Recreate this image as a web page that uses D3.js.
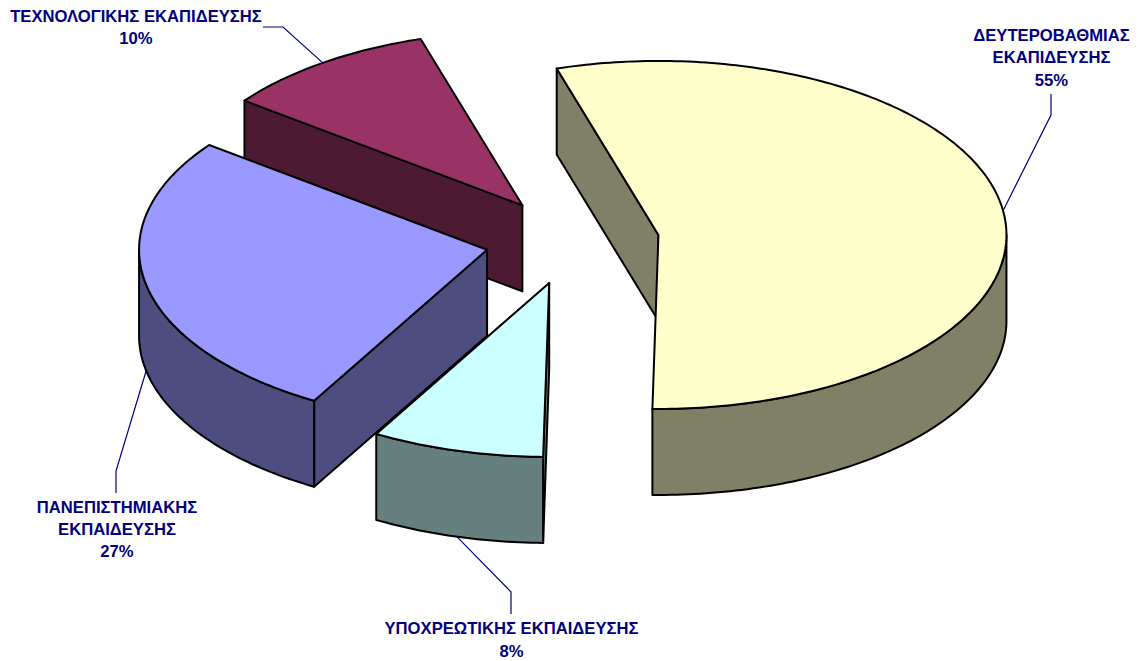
<!DOCTYPE html>
<html>
<head>
<meta charset="utf-8">
<script src="https://d3js.org/d3.v7.min.js"></script>
<style>
  html, body { margin: 0; padding: 0; background: #fff; }
  svg { display: block; }
  text { font-family: "Liberation Sans", Arial, sans-serif; font-weight: bold; font-size: 16.65px; fill: #000080; }
</style>
</head>
<body>
<div id="chart"></div>
<script>
// Chart data, in pie order (clockwise from the start angle)
const categories = ["ΔΕΥΤΕΡΟΒΑΘΜΙΑΣ ΕΚΑΠΙΔΕΥΣΗΣ", "ΥΠΟΧΡΕΩΤΙΚΗΣ ΕΚΠΑΙΔΕΥΣΗΣ", "ΠΑΝΕΠΙΣΤΗΜΙΑΚΗΣ ΕΚΠΑΙΔΕΥΣΗΣ", "ΤΕΧΝΟΛΟΓΙΚΗΣ ΕΚΑΠΙΔΕΥΣΗΣ"];
const labelLines = [
    ["ΔΕΥΤΕΡΟΒΑΘΜΙΑΣ", "ΕΚΑΠΙΔΕΥΣΗΣ"],
    ["ΥΠΟΧΡΕΩΤΙΚΗΣ ΕΚΠΑΙΔΕΥΣΗΣ"],
    ["ΠΑΝΕΠΙΣΤΗΜΙΑΚΗΣ", "ΕΚΠΑΙΔΕΥΣΗΣ"],
    ["ΤΕΧΝΟΛΟΓΙΚΗΣ ΕΚΑΠΙΔΕΥΣΗΣ"]
];
const values = [55, 8, 27, 10];
const topColors = ["#FFFFCC", "#CCFFFF", "#9999FF", "#993366"];
const sideColors = ["#808066", "#668080", "#4D4D80", "#4D1A33"];

const width = 1141, height = 661;

// Pie geometry, tilted so that the circle becomes an ellipse
const cx = 572.3, cy = 241, rx = 348, ry = 174, depth = 86, explode = 87;
const rad = d => d * Math.PI / 180;

// Label placement: x is the text centre, ys the baselines, leader the elbow of the line
const labelLayout = [
    { x: 1051.5, ys: [41, 63, 86], leader: [[1051, 115], [1051, 94]] },
    { x: 511.5, ys: [634, 657], leader: [[511, 592], [511, 614]] },
    { x: 117, ys: [513, 535, 557], leader: [[116, 471], [116, 493]] },
    { x: 136, ys: [22, 44], leader: [[283, 27], [263, 27]] }
];

const svg = d3.select("#chart").append("svg")
    .attr("width", width)
    .attr("height", height);

const pie = d3.pie().sort(null)
    .startAngle(rad(-17))
    .endAngle(rad(343));

// Point on the rim of a slice, angle clockwise from the top
function rimPoint(c, a) {
    return [c[0] + rx * Math.sin(a), c[1] - ry * Math.cos(a)];
}

function arcPoints(c, a0, a1) {
    const n = Math.max(2, Math.ceil((a1 - a0) / rad(1)));
    return d3.range(n + 1).map(i => rimPoint(c, a0 + (a1 - a0) * i / n));
}

const down = p => [p[0], p[1] + depth];
const line = d3.line();

const slices = pie(values).map((d, i) => {
    const mid = (d.startAngle + d.endAngle) / 2;
    return {
        ...d,
        i,
        mid,
        name: categories[i],
        center: [cx + explode * Math.sin(mid), cy - explode * 0.5 * Math.cos(mid)]
    };
});

// Back to front: slices further up the page are painted first
const drawOrder = [3, 2, 0, 1];
const front = rad(90), back = rad(270);

function face(g, d, fill) {
    g.append("path")
        .attr("d", d)
        .attr("fill", fill)
        .attr("stroke", "#000")
        .attr("stroke-width", 2)
        .attr("stroke-linejoin", "round");
}

drawOrder.forEach(i => {
    const s = slices[i];
    const g = svg.append("g").attr("class", "slice");
    const p0 = rimPoint(s.center, s.startAngle);
    const p1 = rimPoint(s.center, s.endAngle);

    // Cut walls, only when they turn towards the viewer
    if (Math.sin(s.startAngle) < 0) {
        face(g, line([s.center, p0, down(p0), down(s.center)]) + "Z", sideColors[i]);
    }
    if (Math.sin(s.endAngle) > 0) {
        face(g, line([s.center, p1, down(p1), down(s.center)]) + "Z", sideColors[i]);
    }

    // The outer rim, only the part that faces the viewer
    const a0 = Math.max(s.startAngle, front), a1 = Math.min(s.endAngle, back);
    if (a1 > a0) {
        const edge = arcPoints(s.center, a0, a1);
        face(g, line(edge.concat(edge.map(down).reverse())) + "Z", sideColors[i]);
    }

    // Top face
    face(g, line([s.center].concat(arcPoints(s.center, s.startAngle, s.endAngle))) + "Z", topColors[i]);
});

// Leader lines start on the rim at the middle of each slice
slices.forEach(s => {
    const layout = labelLayout[s.i];
    let start = rimPoint(s.center, s.mid);
    if (Math.cos(s.mid) < 0) start = down(start); // front slices: the line meets the lower edge

    svg.append("path")
        .attr("d", line([start].concat(layout.leader)))
        .attr("fill", "none")
        .attr("stroke", "#000080")
        .attr("stroke-width", 1.2);

    const rows = labelLines[s.i].concat([values[s.i] + "%"]);
    svg.append("g").selectAll("text")
        .data(rows)
        .join("text")
        .attr("x", layout.x)
        .attr("y", (d, j) => layout.ys[j])
        .attr("text-anchor", "middle")
        .text(d => d);
});
</script>
</body>
</html>
